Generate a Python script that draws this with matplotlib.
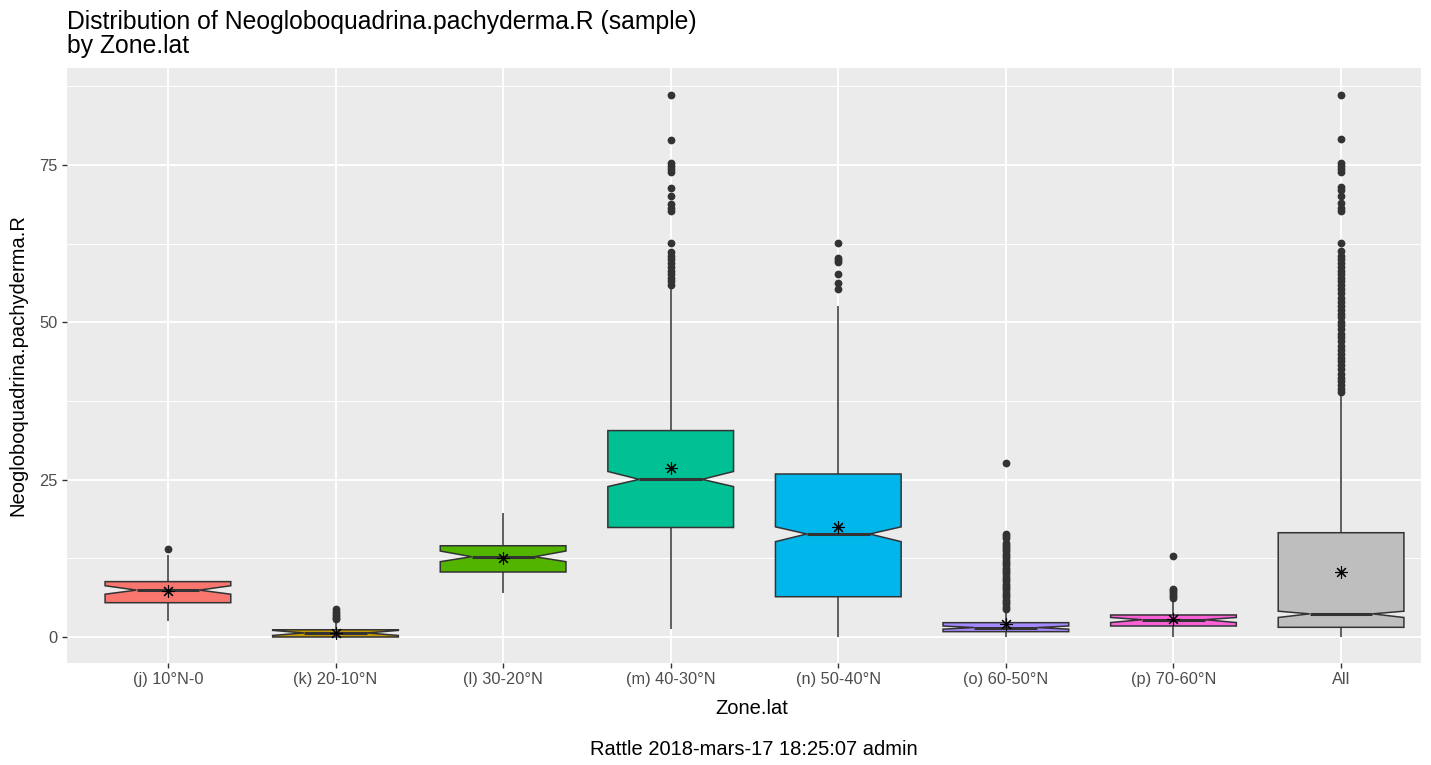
import matplotlib
matplotlib.use("Agg")
import matplotlib.pyplot as plt
from matplotlib.patches import Polygon

plt.rcParams['font.family'] = ['Liberation Sans', 'DejaVu Sans']

# ---------------- data ----------------
categories = ["(j) 10°N-0", "(k) 20-10°N", "(l) 30-20°N", "(m) 40-30°N",
              "(n) 50-40°N", "(o) 60-50°N", "(p) 70-60°N", "All"]
q1 = [5.45, 0.0, 10.33, 17.4, 6.4, 0.85, 1.75, 1.54]
q3 = [8.8, 1.15, 14.5, 32.8, 25.9, 2.28, 3.5, 16.57]
medians = [7.45, 0.65, 12.76, 25.05, 16.37, 1.5, 2.75, 3.68]
notch_lo = [6.8, 0.25, 11.97, 23.9, 15.15, 1.25, 2.3, 3.1]
notch_hi = [8.15, 1.05, 13.66, 26.3, 17.5, 1.75, 3.1, 4.1]
whisk_lo = [2.6, 0.0, 6.94, 1.2, 0.0, 0.0, 0.0, 0.0]
whisk_hi = [13.0, 2.5, 19.65, 55.4, 52.65, 4.3, 6.0, 38.8]
means = [7.36, 0.69, 12.6, 26.8, 17.5, 2.07, 2.86, 10.4]
outliers = [
    [14.0],
    [4.5, 4.0, 3.6, 3.3, 3.0, 2.8],
    [],
    [86.1, 79.0, 75.3, 74.9, 74.4, 73.9, 71.3, 70.1, 68.8, 68.2, 67.7,
     62.6, 61.2, 60.6, 60.0, 59.4, 58.8, 58.2, 57.6, 57.0, 56.5, 56.0],
    [62.66, 60.3, 59.9, 59.6, 57.6, 56.2, 55.25],
    [27.6, 16.4, 16.0, 15.7, 15.0, 14.6, 14.3, 14.0, 13.6, 13.2, 12.9, 12.5,
     12.1, 11.8, 11.4, 11.0, 10.7, 10.3, 10.0, 9.6, 9.2, 8.9, 8.5, 8.1, 7.8,
     7.4, 7.0, 6.7, 6.3, 5.9, 5.5, 5.2, 4.8, 4.5],
    [12.9, 7.7, 7.4, 7.1, 6.8, 6.5, 6.2],
    [86.1, 79.1, 75.3, 74.9, 74.4, 73.9, 71.5, 71.0, 70.1, 68.9, 68.2, 67.7,
     62.6, 61.3, 60.6, 60.0, 59.4, 58.8, 58.2, 57.6, 57.0, 56.5, 56.0, 55.3,
     54.7, 53.8, 53.2, 52.6, 52.0, 51.4, 50.8, 50.1, 49.5, 48.9, 48.2, 47.6,
     47.0, 46.2, 45.6, 45.0, 44.4, 43.8, 43.2, 42.6, 41.8, 41.2, 40.6, 40.0,
     39.4, 39.0],
]
fill_colors = ["#F8766D", "#C49A00", "#53B400", "#00C094",
               "#00B6EB", "#A58AFF", "#FB61D7", "#BEBEBE"]
y_ticks = [0, 25, 50, 75]
title_lines = ["Distribution of Neogloboquadrina.pachyderma.R (sample)", "by Zone.lat"]
x_title = "Zone.lat"
y_title = "Neogloboquadrina.pachyderma.R"
caption = "Rattle 2018-mars-17 18:25:07 admin"

# ---------------- figure ----------------
W, H = 1431, 765
fig = plt.figure(figsize=(W / 100, H / 100), dpi=100)
px_l, px_r, px_t, px_b = 66.7, 1421, 68, 663
ax = fig.add_axes([px_l / W, 1 - px_b / H, (px_r - px_l) / W, (px_b - px_t) / H])
ax.set_facecolor("#EBEBEB")
for s in ax.spines.values():
    s.set_visible(False)

ax.set_xlim(0.396, 8.477)
ax.set_ylim(-4.13, 90.41)

# grid
for y in [12.5, 37.5, 62.5, 87.5]:
    ax.axhline(y, color="white", lw=0.75, zorder=0.5)
for y in y_ticks:
    ax.axhline(y, color="white", lw=1.4, zorder=0.6)
xs = list(range(1, len(categories) + 1))
for x in xs:
    ax.axvline(x, color="white", lw=1.4, zorder=0.6)

edge = "#333333"
w = 0.375
for i, x in enumerate(xs):
    # outliers
    if outliers[i]:
        ax.plot([x] * len(outliers[i]), outliers[i], 'o', color=edge,
                ms=5.6, mec='none', zorder=2)
    # whiskers
    ax.plot([x, x], [q3[i], whisk_hi[i]], color=edge, lw=1.1, zorder=2.5,
            solid_capstyle='butt')
    ax.plot([x, x], [q1[i], whisk_lo[i]], color=edge, lw=1.1, zorder=2.5,
            solid_capstyle='butt')
    # notched box
    px = [x - w, x - w, x - w * 0.5, x - w, x - w, x + w, x + w, x + w * 0.5, x + w, x + w]
    py = [q3[i], notch_hi[i], medians[i], notch_lo[i], q1[i], q1[i],
          notch_lo[i], medians[i], notch_hi[i], q3[i]]
    poly = Polygon(list(zip(px, py)), closed=True, facecolor=fill_colors[i],
                   edgecolor=edge, lw=1.1, zorder=3, joinstyle='miter')
    ax.add_patch(poly)
    ax.plot([x - w * 0.5, x + w * 0.5], [medians[i]] * 2, color=edge, lw=2.2,
            zorder=3.5, solid_capstyle='butt')
    # mean
    ax.plot([x], [means[i]], marker=(8, 2, 0), color="black", ms=9, mew=0.8,
            zorder=4)

ax.set_xticks(xs)
ax.set_xticklabels(categories)
ax.set_yticks(y_ticks)
ax.set_yticklabels([str(v) for v in y_ticks])
ax.tick_params(axis='both', colors="#333333", length=3.6, width=1.0,
               labelsize=11.8, labelcolor="#4D4D4D", pad=3.0)

# texts
fig.text(px_l / W, 1 - 29 / H, title_lines[0], fontsize=17.8, color="black",
         ha='left', va='baseline')
fig.text(px_l / W, 1 - 53 / H, title_lines[1], fontsize=17.8, color="black",
         ha='left', va='baseline')
fig.text(752 / W, 1 - 714 / H, x_title, fontsize=14.5, ha='center', va='baseline')
fig.text(754 / W, 1 - 755 / H, caption, fontsize=14.5, ha='center', va='baseline')
fig.text(18 / W, 1 - 365 / H, y_title, fontsize=14.5, ha='center', va='center',
         rotation=90)

fig.savefig("out.png", dpi=100, facecolor="white")
